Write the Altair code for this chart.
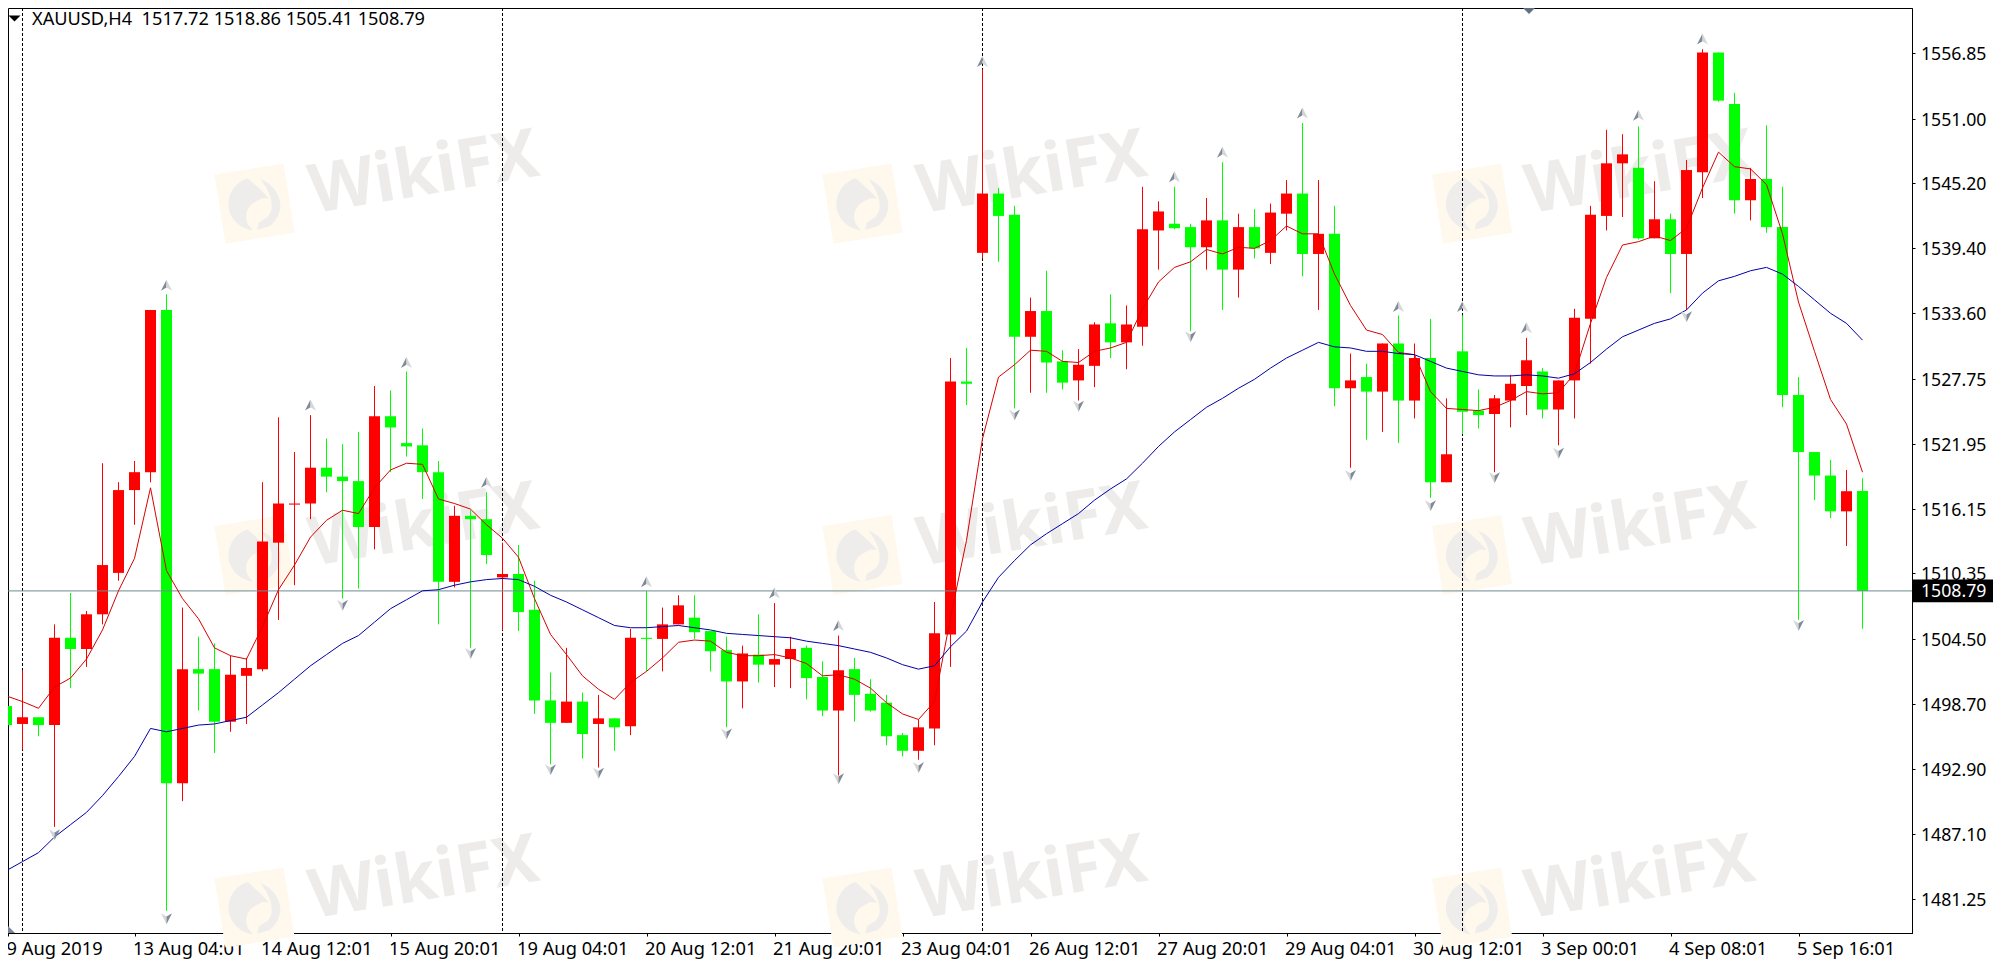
import altair as alt
import pandas as pd

header = "XAUUSD,H4\u00a0\u00a01517.72 1518.86 1505.41 1508.79"
opens = [1498.5,1496.9,1497.5,1496.8,1504.6,1503.6,1506.7,1510.4,1517.8,1519.4,1533.9,1491.6,1501.8,1501.8,1497.1,1501.2,1501.8,1513.1,1516.5,1516.6,
 1519.8,1519.0,1518.6,1514.5,1524.4,1522.0,1521.8,1519.4,1509.6,1515.5,1515.2,1510.0,1510.3,1507.1,1499.0,1497.0,1498.9,1496.9,1497.4,1496.7,
 1504.6,1504.5,1505.8,1506.4,1505.2,1503.5,1500.7,1503.1,1502.2,1502.7,1503.7,1501.1,1498.1,1501.8,1499.6,1498.8,1495.9,1494.5,1496.5,1504.9,
 1527.5,1539.0,1544.3,1542.4,1531.5,1533.8,1529.3,1527.6,1528.9,1532.7,1531.0,1532.4,1541.0,1541.6,1541.3,1539.5,1541.9,1537.5,1541.3,1539.0,
 1542.5,1544.3,1538.9,1540.7,1526.9,1527.9,1526.6,1530.9,1525.8,1529.6,1518.5,1530.2,1524.9,1524.6,1525.8,1527.1,1528.4,1525.0,1527.6,1533.1,
 1542.3,1547.0,1546.6,1540.3,1542.0,1538.9,1546.2,1556.9,1552.3,1543.7,1545.6,1541.3,1526.3,1521.2,1519.1,1515.9,1517.72]
closes = [1496.8,1497.5,1496.8,1504.6,1503.6,1506.7,1511.1,1517.8,1519.4,1533.9,1491.6,1501.8,1501.4,1497.1,1501.3,1501.9,1513.2,1516.6,1516.6,1519.8,
 1519.0,1518.6,1514.5,1524.4,1523.4,1521.7,1519.4,1509.6,1515.5,1515.2,1512.0,1510.3,1506.9,1499.0,1497.0,1498.9,1496.0,1497.4,1496.6,1504.6,
 1504.5,1505.8,1507.5,1505.1,1503.4,1500.7,1503.2,1502.2,1502.7,1503.6,1501.0,1498.1,1501.7,1499.5,1498.1,1495.8,1494.5,1496.6,1505.0,1527.5,
 1527.3,1544.3,1542.3,1531.5,1533.8,1529.2,1527.4,1529.0,1532.6,1531.0,1532.6,1541.1,1542.7,1541.2,1539.5,1541.9,1537.5,1541.3,1539.4,1542.6,
 1544.3,1538.9,1540.7,1526.9,1527.6,1526.6,1530.9,1525.8,1529.6,1518.5,1521.0,1524.8,1524.5,1526.0,1527.3,1529.4,1525.0,1527.6,1533.2,1542.4,
 1547.0,1547.8,1540.3,1542.0,1538.9,1546.4,1556.9,1552.6,1543.7,1545.6,1541.3,1526.3,1521.2,1519.1,1515.9,1517.7,1508.79]
highs = [1499.2,1501.7,1497.5,1505.8,1508.6,1507.0,1520.2,1518.5,1520.4,1533.9,1535.3,1507.3,1504.7,1504.1,1503.0,1502.8,1518.5,1524.3,1521.2,1524.5,
 1522.4,1521.9,1523.0,1527.1,1526.7,1528.4,1523.3,1520.4,1516.4,1516.0,1517.6,1513.1,1512.9,1509.7,1501.5,1503.7,1499.7,1499.5,1497.4,1505.4,
 1508.8,1507.3,1508.4,1508.4,1505.2,1504.7,1503.9,1506.7,1507.7,1504.7,1503.9,1502.5,1504.8,1502.8,1500.9,1499.5,1496.1,1497.3,1507.8,1529.6,
 1530.5,1555.4,1544.8,1543.2,1535.0,1537.4,1530.3,1530.4,1532.8,1535.3,1534.3,1544.9,1543.6,1544.9,1541.6,1543.9,1547.1,1542.5,1542.9,1543.4,
 1545.5,1550.6,1545.5,1543.2,1530.0,1529.1,1530.9,1533.4,1530.9,1533.1,1526.0,1533.4,1526.8,1526.3,1528.1,1531.4,1528.7,1527.6,1534.0,1543.2,
 1550.0,1549.6,1550.3,1545.4,1542.5,1547.3,1557.2,1556.9,1553.3,1546.6,1550.4,1544.9,1527.9,1521.2,1520.5,1519.6,1518.86]
lows = [1495.9,1494.6,1495.8,1487.7,1500.1,1502.0,1505.8,1509.7,1514.7,1518.5,1480.2,1490.0,1498.1,1494.3,1496.2,1496.9,1501.6,1506.2,1509.3,1515.2,
 1517.6,1508.1,1509.0,1512.5,1519.4,1520.8,1517.0,1505.8,1509.1,1503.7,1511.2,1505.3,1505.2,1497.8,1493.3,1497.0,1493.8,1493.0,1494.5,1495.9,
 1501.6,1501.6,1505.8,1504.5,1501.6,1496.6,1498.3,1500.6,1500.2,1500.1,1499.1,1497.6,1492.3,1497.1,1498.0,1495.0,1494.0,1493.7,1495.0,1502.0,
 1525.4,1538.5,1538.2,1525.1,1526.5,1526.5,1526.8,1525.8,1527.0,1529.6,1528.6,1530.7,1537.5,1541.1,1532.0,1537.5,1533.9,1535.0,1538.5,1538.0,
 1541.0,1536.9,1533.9,1525.3,1519.8,1522.3,1523.0,1522.0,1524.2,1517.1,1518.5,1522.8,1523.3,1519.4,1523.4,1524.5,1524.2,1521.8,1524.2,1529.1,
 1541.0,1542.2,1540.2,1540.3,1535.4,1533.9,1543.9,1552.5,1542.5,1541.9,1540.8,1525.2,1506.2,1516.9,1515.3,1512.8,1505.41]
fast_ma = [1499.4,1498.9,1498.3,1500.2,1501.0,1502.7,1505.3,1508.8,1511.7,1518.0,1510.6,1508.1,1506.3,1503.7,1503.0,1502.7,1505.6,1508.9,1511.1,1513.6,
 1515.1,1516.0,1515.7,1518.0,1519.6,1520.2,1520.1,1517.0,1516.6,1516.1,1514.7,1513.5,1511.8,1508.1,1504.9,1503.1,1501.2,1500.0,1499.1,1500.6,
 1501.6,1502.8,1504.2,1504.4,1504.3,1503.3,1503.0,1503.0,1503.1,1502.8,1502.3,1501.2,1501.3,1500.9,1500.1,1498.8,1497.8,1497.3,1498.9,1506.4,
 1513.3,1522.4,1527.9,1529.0,1530.3,1530.2,1529.3,1529.2,1530.2,1530.5,1531.0,1534.0,1536.4,1537.7,1538.2,1539.3,1538.9,1539.5,1539.4,1540.1,
 1541.4,1540.7,1540.7,1537.1,1534.3,1532.1,1531.7,1530.1,1529.9,1526.6,1525.1,1525.0,1524.9,1525.2,1525.8,1526.6,1526.4,1526.5,1528.2,1532.7,
 1536.8,1539.7,1540.0,1540.5,1540.1,1541.2,1544.8,1548.0,1546.7,1546.5,1545.1,1540.7,1534.6,1530.2,1525.9,1523.7,1519.4]
slow_ma = [1483.8,1484.6,1485.4,1486.8,1487.9,1489.0,1490.5,1492.2,1494.0,1496.5,1496.2,1496.5,1496.8,1496.9,1497.2,1497.5,1498.6,1499.7,1500.9,1502.1,
 1503.1,1504.1,1504.8,1506.0,1507.2,1508.0,1508.8,1508.9,1509.3,1509.6,1509.8,1509.9,1509.8,1509.2,1508.4,1507.8,1507.1,1506.4,1505.7,1505.5,
 1505.5,1505.6,1505.7,1505.5,1505.3,1505.0,1504.9,1504.8,1504.7,1504.6,1504.3,1504.1,1503.9,1503.6,1503.3,1502.8,1502.2,1501.8,1502.1,1503.8,
 1505.2,1507.8,1510.0,1511.5,1512.9,1513.9,1514.8,1515.7,1516.9,1517.9,1518.8,1520.2,1521.7,1523.0,1524.1,1525.2,1526.0,1526.9,1527.7,1528.7,
 1529.6,1530.3,1531.0,1530.6,1530.5,1530.2,1530.2,1530.0,1529.9,1529.3,1528.7,1528.4,1528.1,1528.0,1528.0,1528.1,1528.0,1527.8,1528.2,1529.2,
 1530.4,1531.5,1532.1,1532.7,1533.1,1533.9,1535.4,1536.5,1536.9,1537.4,1537.7,1537.1,1536.0,1534.8,1533.6,1532.7,1531.2]

up_i = [10,19,25,30,40,48,52,61,73,76,81,87,91,95,102,106]
up_p = [1536.1,1525.4,1529.2,1518.5,1509.6,1508.6,1505.7,1556.1,1545.8,1548.0,1551.5,1534.2,1534.2,1532.3,1551.3,1558.1]
down_i = [3,10,21,29,34,37,45,52,57,63,67,74,84,89,93,97,105,112]
down_p = [1487.0,1479.5,1507.5,1503.2,1492.8,1492.5,1496.0,1492.0,1493.0,1524.5,1525.3,1531.5,1519.1,1516.4,1518.9,1521.1,1533.3,1505.7]

separators = [1,31,61,91]
last_price = 1508.79
y_ticks = [1556.85,1551.00,1545.20,1539.40,1533.60,1527.75,1521.95,1516.15,1510.35,1504.50,1498.70,1492.90,1487.10,1481.25]
x_labels = ["9 Aug 2019","13 Aug 04:01","14 Aug 12:01","15 Aug 20:01","19 Aug 04:01","20 Aug 12:01","21 Aug 20:01",
            "23 Aug 04:01","26 Aug 12:01","27 Aug 20:01","29 Aug 04:01","30 Aug 12:01","3 Sep 00:01","4 Sep 08:01","5 Sep 16:01"]
x_ticks = [0.1] + [8*k for k in range(1,len(x_labels))]

wm_text_i = [26.1,64.1,102.1]
wm_text_p = [1546.0,1514.5,1483.0]
wm_logo_i = [15.5,53.5,91.6]
wm_logo_p = [1543.4,1512.0,1480.5]

FONT = "Noto Sans"
df = pd.DataFrame({"i":range(len(opens)),"o":opens,"h":highs,"l":lows,"c":closes,"fast":fast_ma,"slow":slow_ma})
df["dir"] = ["up" if c>=o else "down" for o,c in zip(opens,closes)]

xs = alt.Scale(domain=[0.09375,119.09375],nice=False,zero=False,padding=0)
ys = alt.Scale(domain=[1478.22,1560.88],nice=False,zero=False,padding=0)
label_js = "[" + ",".join("'%s'"%s for s in x_labels) + "][round(datum.value/8)]"
xax = alt.Axis(values=x_ticks,labelExpr=label_js,labelAlign="left",labelBaseline="middle",labelPadding=13,tickSize=3,labelOffset=-2,
               labelFont=FONT,labelFontSize=18.3,labelColor="#000",tickColor="#000",domainColor="#000",grid=False,
               labelFlush=False,labelBound=False,labelOverlap=False,title=None)
yax = alt.Axis(orient="right",values=y_ticks,format=".2f",tickSize=3,labelPadding=5.5,labelOffset=1.5,labelFont=FONT,labelFontSize=17.7,
               labelColor="#000",tickColor="#000",domainColor="#000",grid=False,labelOverlap=False,labelBaseline="middle",
               labelFlush=False,labelBound=False,title=None)
X = alt.X("i:Q",scale=xs,axis=xax)
Y = alt.Y("p:Q",scale=ys,axis=yax)
col = alt.Color("dir:N",scale=alt.Scale(domain=["up","down"],range=["#ff0000","#00ff00"]),legend=None)

# watermark
EAGLE = ("M-0.1,-0.95C-0.6,-0.9,-1,-0.4,-0.95,0.1C-0.9,0.5,-0.6,0.85,-0.2,0.95C-0.5,0.6,-0.4,0.2,-0.1,0L0.3,-0.15L0.55,-0.1C0.3,-0.5,0.1,-0.7,-0.1,-0.95Z"
         "M0.35,-0.85C0.8,-0.6,1,-0.1,0.9,0.3C0.8,0.6,0.6,0.8,0.4,0.9L-0.05,0.95L0.05,0.7L0.4,0.55C0.7,0.3,0.7,-0.2,0.35,-0.85Z")
cross = [(a,b) for a in range(3) for b in range(3)]
wm_t = pd.DataFrame({"i":[wm_text_i[a] for a,b in cross],"p":[wm_text_p[b] for a,b in cross],"t":["WikiFX"]*9})
wm_l = pd.DataFrame({"i":[wm_logo_i[a] for a,b in cross],"p":[wm_logo_p[b] for a,b in cross]})
l_text = alt.Chart(wm_t).mark_text(font=FONT,fontWeight="bold",fontSize=68,angle=350.5,color="#eeeceb").encode(x=X,y=Y,text="t:N")
l_logo = alt.Chart(wm_l).mark_point(shape="square",filled=True,size=4900,angle=351,color="#fef9ec",opacity=1).encode(x=X,y=Y)
l_eagle = alt.Chart(wm_l).mark_point(shape=EAGLE,filled=True,size=3025,angle=351,color="#efedeb",opacity=1).encode(x=X,y=Y)

sep = alt.Chart(pd.DataFrame({"i":separators})).mark_rule(color="#000",strokeDash=[3,2],strokeWidth=1).encode(x=X)
price_line = alt.Chart(pd.DataFrame({"p":[last_price]})).mark_rule(color="#6f8a90",strokeWidth=1).encode(y=Y)

wick = alt.Chart(df).mark_rule(strokeWidth=1,clip=True).encode(x=X,y=alt.Y("h:Q",scale=ys,axis=yax),y2="l:Q",color=col)
body = alt.Chart(df).mark_bar(size=11,orient="vertical",clip=True).encode(x=X,y=alt.Y("o:Q",scale=ys,axis=yax),y2="c:Q",color=col)
fast = alt.Chart(df).mark_line(color="#d80000",strokeWidth=1,clip=True).encode(x=X,y=alt.Y("fast:Q",scale=ys,axis=yax))
slow = alt.Chart(df).mark_line(color="#0000a8",strokeWidth=1,clip=True).encode(x=X,y=alt.Y("slow:Q",scale=ys,axis=yax))

up_df = pd.DataFrame({"i":up_i,"p":up_p})
dn_df = pd.DataFrame({"i":down_i,"p":down_p})
def arrow(data,path,color):
    return alt.Chart(data).mark_point(shape=path,filled=True,size=121,color=color,opacity=1).encode(x=X,y=Y)
ups_a = arrow(up_df,"M0,-1L0,0.4L-1,1Z","#7f8a96")
ups_b = arrow(up_df,"M0,-1L1,1L0,0.4Z","#d4d6d8")
dn_a = arrow(dn_df,"M0,1L0,-0.4L-1,-1Z","#d4d6d8")
dn_b = arrow(dn_df,"M0,1L1,-1L0,-0.4Z","#7f8a96")

box = alt.Chart(pd.DataFrame({"p":[last_price+1.01],"p2":[last_price-1.01]})).mark_rect(color="#000").encode(
    x=alt.value(1905),x2=alt.value(1985),y=alt.Y("p:Q",scale=ys,axis=yax),y2="p2:Q")
box_t = alt.Chart(pd.DataFrame({"p":[last_price],"t":["%.2f"%last_price]})).mark_text(font=FONT,fontSize=17.7,color="#fff",align="left",baseline="middle",dy=1.2).encode(
    x=alt.value(1913),y=Y,text="t:N")

head = alt.Chart(pd.DataFrame({"t":[header]})).mark_text(font=FONT,fontSize=18.2,color="#000",align="left",baseline="middle").encode(
    x=alt.value(24),y=alt.value(12),text="t:N")
one = pd.DataFrame({"a":[0]})
tri_menu = alt.Chart(one).mark_point(shape="M-1,-1L1,-1L0,0Z",filled=True,size=144,color="#000",opacity=1).encode(x=alt.value(6.5),y=alt.value(13.6))
tri_top = alt.Chart(one).mark_point(shape="M-1,-1L1,-1L0,0Z",filled=True,size=400,color="#5f7184",opacity=1).encode(x=alt.value(1521),y=alt.value(6))
tri_corner = alt.Chart(one).mark_point(shape="M-1,-1L1,1L-1,1Z",filled=True,size=121,color="#7a8296",opacity=1).encode(x=alt.value(1.5),y=alt.value(919.5))

chart = alt.layer(l_logo,l_eagle,l_text,sep,wick,body,price_line,fast,slow,ups_a,ups_b,dn_a,dn_b,box,box_t,head,tri_menu,tri_top,tri_corner).properties(
    width=1904,height=925,background="#fff",
    autosize=alt.AutoSizeParams(type="none"),
    padding={"left":0,"top":0,"right":84,"bottom":27},
).configure_view(stroke="#000",strokeWidth=1)

chart.save("out.html",embed_options={"renderer":"svg","actions":False})
